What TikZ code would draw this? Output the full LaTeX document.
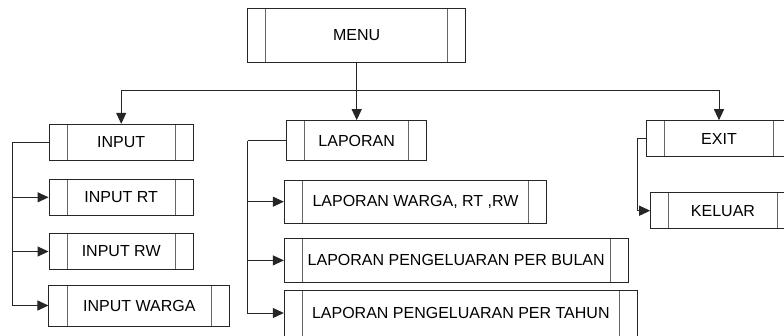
\documentclass[tikz,border=0pt]{standalone}
\usepackage{fontspec}
\setmainfont{Liberation Sans}
\usetikzlibrary{arrows.meta}
\tikzset{
  line/.style={line width=1pt, draw=black!85},
  divider/.style={line width=0.9pt, draw=black!60},
  proc/.style={line, rectangle, inner sep=0pt, font=\fontsize{16}{19}\selectfont,
    path picture={
      \draw[divider] ([xshift=18pt]path picture bounding box.north west) -- ([xshift=18pt]path picture bounding box.south west);
      \draw[divider] ([xshift=-18pt]path picture bounding box.north east) -- ([xshift=-18pt]path picture bounding box.south east);
    }},
  arr/.style={line, -{Triangle[length=11pt,width=10pt]}}
}
\begin{document}
\begin{tikzpicture}[x=1pt,y=-1pt]
\path[use as bounding box, clip] (0,0) rectangle (784,335);
\fill[white] (0,0) rectangle (784,335);
% nodes
\node[proc, minimum width=218pt, minimum height=54pt] (menu) at (356.7,35) {MENU};
\node[proc, minimum width=144.3pt, minimum height=35.7pt] (input) at (121.2,142.2) {INPUT};
\node[proc, minimum width=144.3pt, minimum height=36pt] (inputrt) at (121.2,197.3) {INPUT RT};
\node[proc, minimum width=144.3pt, minimum height=36pt] (inputrw) at (121.2,251.5) {INPUT RW};
\node[proc, minimum width=180.7pt, minimum height=41pt] (inputwarga) at (139.3,305.5) {INPUT WARGA};
\node[proc, minimum width=140pt, minimum height=40.3pt] (laporan) at (356.7,140.8) {LAPORAN};
\node[proc, minimum width=262.4pt, minimum height=43.3pt] (lapwarga) at (415.5,201.7) {LAPORAN WARGA, RT ,RW};
\node[proc, minimum width=343.7pt, minimum height=44.3pt] (lapbulan) at (456.2,260.4) {LAPORAN PENGELUARAN PER BULAN};
\node[proc, minimum width=353pt, minimum height=46pt] (laptahun) at (460.8,313) {LAPORAN PENGELUARAN PER TAHUN};
\node[proc, minimum width=145.4pt, minimum height=36pt] (exit) at (719,138.7) {EXIT};
\node[proc, minimum width=144.6pt, minimum height=36pt] (keluar) at (723,210.7) {KELUAR};
% bus
\coordinate (bus) at (356.7,90);
\coordinate (tI) at (12.7,142.2);
\coordinate (tL) at (247.5,140.8);
\coordinate (tE) at (637.3,138.7);
\draw[line] (menu.south) -- (bus);
\draw[arr] (bus) -| (input.north);
\draw[arr] (bus) -| (exit.north);
\draw[arr] (bus) -- (laporan.north);
% input branch
\draw[line] (input.west) -- (tI);
\draw[arr] (tI) |- (inputrt.west);
\draw[arr] (tI) |- (inputrw.west);
\draw[arr] (tI) |- (inputwarga.west);
% laporan branch
\draw[line] (laporan.west) -- (tL);
\draw[arr] (tL) |- (lapwarga.west);
\draw[arr] (tL) |- (lapbulan.west);
\draw[arr] (tL) |- (laptahun.west);
% exit branch
\draw[line] (exit.west) -- (tE);
\draw[arr] (tE) |- (keluar.west);
\end{tikzpicture}
\end{document}
